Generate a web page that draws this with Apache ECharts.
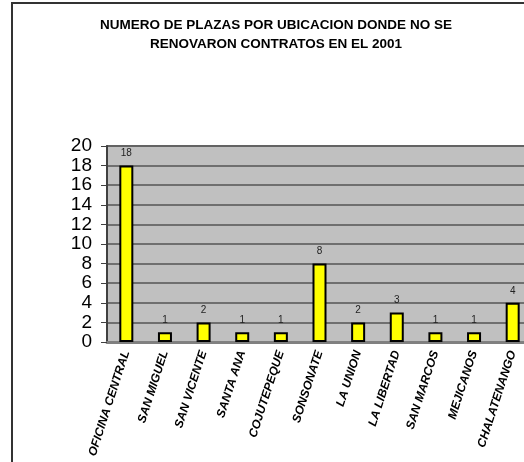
<!DOCTYPE html>
<html>
<head>
<meta charset="utf-8">
<script src="https://cdn.jsdelivr.net/npm/echarts@6/dist/echarts.min.js"></script>
<style>
  html, body { margin: 0; padding: 0; background: #fff; overflow: hidden; }
  #chart { width: 540px; height: 462px; }
</style>
</head>
<body>
<div id="chart"></div>
<script>
const categories = ['OFICINA CENTRAL', 'SAN MIGUEL', 'SAN VICENTE', 'SANTA ANA', 'COJUTEPEQUE',
  'SONSONATE', 'LA UNION', 'LA LIBERTAD', 'SAN MARCOS', 'MEJICANOS', 'CHALATENANGO']
const plazas = [18, 1, 2, 1, 1, 8, 2, 3, 1, 1, 4]
const titleLines = ['NUMERO DE PLAZAS POR UBICACION DONDE NO SE', 'RENOVARON CONTRATOS EN EL 2001']

const chart = echarts.init(document.getElementById('chart'))

const option = {
  animation: false,
  backgroundColor: '#fff',
  title: {
    text: titleLines.join('\n'),
    left: 271,
    top: 11,
    textAlign: 'center',
    textStyle: {
      fontFamily: 'Arial, Liberation Sans',
      fontSize: 13.5,
      fontWeight: 'bold',
      color: '#000',
      lineHeight: 19
    }
  },
  // outer chart frame
  graphic: [{
    type: 'rect',
    shape: { x: 12, y: 3, width: 600, height: 500 },
    style: { fill: 'none', stroke: '#333', lineWidth: 2 },
    silent: true
  }],
  grid: {
    left: 107,
    top: 146,
    width: 425,
    height: 196,
    show: true,
    backgroundColor: '#C0C0C0',
    borderColor: '#909090',
    borderWidth: 2
  },
  xAxis: {
    type: 'category',
    data: categories,
    axisLine: { show: true, lineStyle: { color: '#808080', width: 3 } },
    axisTick: { show: false },
    axisLabel: {
      interval: 0,
      rotate: 72,
      margin: 9,
      fontFamily: 'Arial, Liberation Sans',
      fontSize: 12,
      fontWeight: 'bold',
      fontStyle: 'italic',
      color: '#000'
    }
  },
  yAxis: {
    type: 'value',
    min: 0,
    max: 20,
    interval: 2,
    axisLine: { show: true, lineStyle: { color: '#404040', width: 2 } },
    axisTick: { show: true, length: 6, lineStyle: { color: '#404040', width: 1 } },
    axisLabel: {
      margin: 15,
      fontFamily: 'Arial, Liberation Sans',
      fontSize: 19,
      color: '#000'
    },
    splitLine: { lineStyle: { color: '#555', width: 1.5 } }
  },
  series: [{
    name: 'Plazas',
    type: 'bar',
    data: plazas,
    barWidth: 14,
    itemStyle: {
      color: '#FFFF00',
      borderColor: '#000',
      borderWidth: 2
    },
    label: {
      show: true,
      position: 'top',
      distance: 7,
      fontFamily: 'Arial, Liberation Sans',
      fontSize: 10,
      color: '#222'
    }
  }]
}

chart.setOption(option)
</script>
</body>
</html>
